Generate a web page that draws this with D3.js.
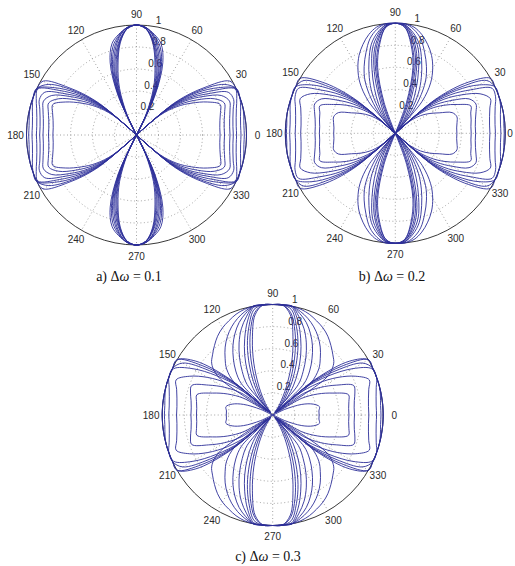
<!DOCTYPE html>
<html>
<head>
<meta charset="utf-8">
<script src="https://cdn.jsdelivr.net/npm/d3@7"></script>
<style>
  body { margin: 0; background: #fff; }
  svg { display: block; }
</style>
</head>
<body>
<svg id="chart" width="515" height="566"></svg>
<script>
// Sampling angles (degrees) for one quadrant; each pattern is symmetric about both axes.
const sampleDeg = [0, 5, 10, 15, 20, 25, 30, 35, 40, 45, 50, 55, 60, 65, 70, 75, 80, 85, 90];

const angleTicks = [0, 30, 60, 90, 120, 150, 180, 210, 240, 270, 300, 330];
const radialTicks = [0.2, 0.4, 0.6, 0.8, 1];
const radialTickLabels = ["0.2", "0.4", "0.6", "0.8", "1"];

// Normalised pattern magnitude r(θ), θ = 0..90°, one row per curve.
const curvesA = [
  [0.76, 0.76, 0.77, 0.79, 0.81, 0.71, 0.58, 0.45, 0.28, 0, 0, 0, 0, 0.40, 0.70, 0.86, 0.93, 0.98, 1],
  [0.80, 0.80, 0.81, 0.83, 0.85, 0.78, 0.64, 0.49, 0.31, 0, 0, 0, 0, 0.37, 0.66, 0.83, 0.92, 0.98, 1],
  [0.85, 0.85, 0.86, 0.88, 0.90, 0.85, 0.70, 0.54, 0.33, 0, 0, 0, 0, 0.34, 0.63, 0.80, 0.91, 0.98, 1],
  [0.88, 0.88, 0.89, 0.91, 0.94, 0.92, 0.75, 0.58, 0.36, 0, 0, 0, 0, 0.31, 0.59, 0.77, 0.90, 0.98, 1],
  [0.91, 0.91, 0.92, 0.94, 0.97, 0.99, 0.81, 0.62, 0.39, 0, 0, 0, 0, 0.29, 0.56, 0.74, 0.88, 0.97, 1],
  [0.95, 0.95, 0.96, 0.98, 1, 1, 0.86, 0.67, 0.41, 0, 0, 0, 0, 0.26, 0.52, 0.71, 0.87, 0.97, 1],
  [0.98, 0.98, 0.99, 1, 1, 1, 0.92, 0.71, 0.44, 0, 0, 0, 0, 0.23, 0.49, 0.68, 0.86, 0.97, 1],
  [1, 1, 1, 1, 1, 1, 0.98, 0.75, 0.47, 0, 0, 0, 0, 0.20, 0.45, 0.65, 0.85, 0.97, 1]
];

const curvesB = [
  [0.56, 0.56, 0.57, 0.58, 0.55, 0.44, 0.36, 0.28, 0.17, 0.05, 0.38, 0.56, 0.68, 0.78, 0.86, 0.93, 0.98, 1, 1],
  [0.69, 0.69, 0.70, 0.71, 0.73, 0.62, 0.51, 0.39, 0.24, 0, 0.20, 0.38, 0.55, 0.67, 0.78, 0.89, 0.96, 1, 1],
  [0.73, 0.73, 0.74, 0.76, 0.78, 0.74, 0.60, 0.46, 0.29, 0, 0.10, 0.25, 0.42, 0.56, 0.70, 0.84, 0.93, 0.99, 1],
  [0.86, 0.86, 0.87, 0.89, 0.92, 0.85, 0.70, 0.54, 0.33, 0, 0.05, 0.15, 0.30, 0.45, 0.62, 0.80, 0.91, 0.99, 1],
  [0.91, 0.91, 0.92, 0.94, 0.97, 0.97, 0.79, 0.61, 0.38, 0, 0.02, 0.08, 0.20, 0.33, 0.54, 0.75, 0.89, 0.98, 1],
  [0.96, 0.96, 0.97, 0.99, 1, 1, 0.88, 0.68, 0.42, 0, 0, 0, 0.06, 0.24, 0.46, 0.71, 0.87, 0.98, 1],
  [0.99, 0.99, 1, 1, 1, 1, 0.96, 0.74, 0.46, 0, 0, 0, 0, 0.14, 0.38, 0.66, 0.84, 0.97, 1],
  [1, 1, 1, 1, 1, 1, 1, 0.81, 0.50, 0, 0, 0, 0, 0, 0.30, 0.62, 0.82, 0.97, 1]
];

const curvesC = [
  [0.42, 0.42, 0.43, 0.38, 0.28, 0.12, 0, 0.60, 0.72, 0.77, 0.82, 0.87, 0.91, 0.94, 0.97, 0.99, 1, 1, 1],
  [0.69, 0.69, 0.70, 0.71, 0.58, 0.45, 0.30, 0.06, 0.45, 0.59, 0.67, 0.75, 0.82, 0.88, 0.93, 0.97, 1, 1, 1],
  [0.74, 0.74, 0.75, 0.77, 0.78, 0.64, 0.50, 0.34, 0.05, 0.40, 0.52, 0.62, 0.72, 0.81, 0.89, 0.95, 1, 1, 1],
  [0.87, 0.87, 0.88, 0.90, 0.93, 0.83, 0.68, 0.50, 0.28, 0.03, 0.36, 0.48, 0.60, 0.72, 0.83, 0.92, 1, 1, 1],
  [0.94, 0.94, 0.95, 0.97, 1, 0.99, 0.84, 0.62, 0.38, 0.04, 0.20, 0.33, 0.46, 0.60, 0.74, 0.88, 0.99, 1, 1],
  [0.98, 0.98, 0.99, 1, 1, 1, 0.94, 0.70, 0.42, 0.03, 0.13, 0.22, 0.35, 0.50, 0.67, 0.83, 0.97, 1, 1],
  [1, 1, 1, 1, 1, 1, 1, 0.78, 0.46, 0.03, 0.08, 0.15, 0.26, 0.41, 0.59, 0.78, 0.94, 1, 1],
  [1, 1, 1, 1, 1, 1, 1, 0.85, 0.50, 0.03, 0.03, 0.08, 0.17, 0.31, 0.50, 0.71, 0.92, 1, 1]
];

const captionLetters = ["a)", "b)", "c)"];
const captionValues = ["0.1", "0.2", "0.3"];

// Layout of the three polar panels
const panels = [
  { cx: 136.5, cy: 135, R: 110, curves: curvesA, capX: 129, capY: 281 },
  { cx: 395.3, cy: 133.3, R: 110, curves: curvesB, capX: 392, capY: 281 },
  { cx: 272.7, cy: 415, R: 110.5, curves: curvesC, capX: 268, capY: 561 }
];

const W = 515;
const svg = d3.select("#chart");
const curveColor = "#2d2f98";
const gridColor = "#8a8a8a";
const toRad = Math.PI / 180;

// Expand one quadrant of samples into the full closed pattern (mirror about both axes).
function fullTurn(rs) {
  const pts = [];
  const n = sampleDeg.length;
  for (let i = 0; i < n; i++) pts.push({ deg: sampleDeg[i], r: rs[i] });
  for (let i = n - 2; i >= 0; i--) pts.push({ deg: 180 - sampleDeg[i], r: rs[i] });
  for (let i = 1; i < n; i++) pts.push({ deg: 180 + sampleDeg[i], r: rs[i] });
  for (let i = n - 2; i >= 1; i--) pts.push({ deg: 360 - sampleDeg[i], r: rs[i] });
  return pts;
}

panels.forEach((p, pi) => {
  const g = svg.append("g").attr("transform", `translate(${p.cx},${p.cy})`);
  const r = d3.scaleLinear().domain([0, 1]).range([0, p.R]);
  const px = (deg, v) => r(v) * Math.cos(deg * toRad);
  const py = (deg, v) => -r(v) * Math.sin(deg * toRad);

  // spokes every 30°
  g.selectAll("line.spoke")
    .data(angleTicks.filter(a => a < 180))
    .join("line")
    .attr("class", "spoke")
    .attr("x1", a => px(a, 1)).attr("y1", a => py(a, 1))
    .attr("x2", a => px(a + 180, 1)).attr("y2", a => py(a + 180, 1))
    .attr("stroke", gridColor).attr("stroke-width", 0.8)
    .attr("stroke-dasharray", "1 2.5");

  // range rings
  g.selectAll("circle.ring")
    .data(radialTicks)
    .join("circle")
    .attr("class", "ring")
    .attr("r", d => r(d))
    .attr("fill", "none")
    .attr("stroke", d => d === 1 ? "#222" : gridColor)
    .attr("stroke-width", d => d === 1 ? 0.9 : 0.8)
    .attr("stroke-dasharray", d => d === 1 ? null : "1 2.5");

  // angle labels (kept inside the drawing area)
  g.selectAll("text.ang")
    .data(angleTicks)
    .join("text")
    .attr("class", "ang")
    .attr("x", a => Math.min(px(a, 1.1), W - 5 - p.cx))
    .attr("y", a => py(a, 1.1))
    .attr("text-anchor", "middle")
    .attr("dominant-baseline", "central")
    .attr("font-family", "Liberation Sans, Arial, sans-serif")
    .attr("font-size", 10)
    .attr("fill", "#2a2a2a")
    .text(a => a);

  // radial tick labels along the 80° ray
  g.selectAll("text.rad")
    .data(radialTicks)
    .join("text")
    .attr("class", "rad")
    .attr("x", d => px(80, d + 0.01))
    .attr("y", d => py(80, d + 0.01) - 2)
    .attr("text-anchor", "start")
    .attr("font-family", "Liberation Sans, Arial, sans-serif")
    .attr("font-size", 10)
    .attr("fill", "#2a2a2a")
    .text((d, i) => radialTickLabels[i]);

  // pattern curves
  const line = d3.lineRadial()
    .angle(d => (90 - d.deg) * toRad)
    .radius(d => r(d.r))
    .curve(d3.curveCatmullRomClosed.alpha(0.5));

  g.selectAll("path.pattern")
    .data(p.curves)
    .join("path")
    .attr("class", "pattern")
    .attr("d", rs => line(fullTurn(rs)))
    .attr("fill", "none")
    .attr("stroke", curveColor)
    .attr("stroke-width", 0.9)
    .attr("stroke-linejoin", "round");

  // caption
  const cap = svg.append("text")
    .attr("x", p.capX).attr("y", p.capY)
    .attr("text-anchor", "middle")
    .attr("font-family", "Liberation Serif, Times New Roman, serif")
    .attr("font-size", 14)
    .attr("fill", "#111");
  cap.append("tspan").text(captionLetters[pi] + " \u0394");
  cap.append("tspan").attr("font-style", "italic").text("\u03C9");
  cap.append("tspan").text(" = " + captionValues[pi]);
});
</script>
</body>
</html>
